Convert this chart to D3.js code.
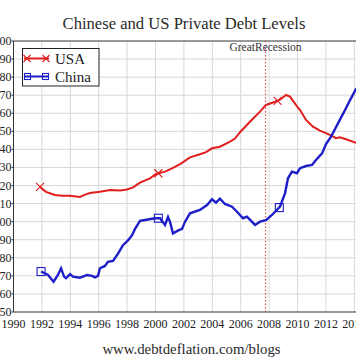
<!DOCTYPE html>
<html><head><meta charset="utf-8">
<script src="https://cdn.jsdelivr.net/npm/d3@7/dist/d3.min.js"></script>
<style>body{margin:0;background:#fff}svg{display:block}text{font-family:"Liberation Serif","Times New Roman",serif}</style>
</head><body><svg id="c" width="356" height="364"></svg>
<script>
const usaYears = [1991.87,1992.29,1992.92,1993.42,1993.98,1994.68,1995.04,1995.39,1996.09,1996.8,1997.5,1997.99,1998.42,1998.91,1999.61,2000.04,2000.67,2001.16,2001.73,2002.43,2003.13,2003.56,2003.98,2004.54,2005.25,2005.6,2005.95,2006.65,2007.36,2007.78,2008.42,2008.77,2009.19,2009.47,2009.89,2010.18,2010.6,2011.09,2011.58,2012.29,2012.71,2012.99,2013.42,2014.12,2014.5];
const usaValues = [119.2,116.5,114.8,114.3,114.4,113.7,115,115.9,116.6,117.5,117.2,117.8,119,121.6,124,126.4,127.7,129.5,131.9,135.6,137.3,138.5,140.6,141.5,144.3,146,149.5,155.3,160.9,164.6,166.4,167.5,170.1,169.2,164.6,161.8,156.3,152.6,150.4,148,146.2,146.7,145.6,143.7,143];
const chinaYears = [1991.94,1992.43,1992.82,1993.13,1993.35,1993.56,1993.7,1993.98,1994.19,1994.68,1995.18,1995.53,1995.74,1995.95,1996.09,1996.44,1996.65,1997.01,1997.36,1997.71,1998.06,1998.35,1998.56,1998.91,1999.26,1999.96,2000.32,2000.67,2000.88,2001.02,2001.23,2001.58,2001.87,2002.08,2002.43,2003.13,2003.63,2003.98,2004.26,2004.54,2004.89,2005.39,2005.74,2006.16,2006.44,2007.01,2007.36,2007.78,2008.2,2008.77,2009.12,2009.33,2009.61,2009.96,2010.18,2010.6,2011.02,2011.3,2011.73,2012.01,2012.36,2012.99,2013.35,2013.7,2014.12,2014.5];
const chinaValues = [72.4,70.5,66.8,70.5,74.2,69.6,68.7,71,69.6,69,70.5,70,69.2,70,74.2,75.5,77.8,78.3,82.3,87,89.6,92.5,96,100.4,100.9,101.9,101.9,98.2,102.6,100,93.5,95,96,100,104.6,106.5,109.2,112.4,110.5,112.7,109.8,108.3,105.5,101.9,102.8,98.2,100,100.9,103.7,108.3,115.7,124,127.7,126.8,129.6,130.8,131.4,134.1,137.8,143,147,156.5,161.8,167.3,173.4,176];
const usaMarkers = [[1991.87,119.2],[2000.2,126.8],[2008.6,166.8]];
const chinaMarkers = [[1991.94,72.4],[2000.2,101.9],[2008.72,107.8]];
const xTicks = d3.range(1990, 2017, 2);
const yTicks = d3.range(50, 201, 10);
const recessionYear = 2007.75;
const seriesNames = ["USA","China"];

const svg = d3.select("#c");
const x = d3.scaleLinear().domain([1990, 2016]).range([13.5, 382.7]);
const y = d3.scaleLinear().domain([50, 200]).range([312, 41]);

// grid
svg.append("g").selectAll("line").data(xTicks.slice(1)).join("line")
  .attr("x1", d => x(d)).attr("x2", d => x(d)).attr("y1", y(200)).attr("y2", y(50))
  .attr("stroke", "#d8d8d8").attr("stroke-width", 1);
svg.append("g").selectAll("line").data(yTicks.slice(1, -1)).join("line")
  .attr("x1", x(1990)).attr("x2", 400).attr("y1", d => y(d)).attr("y2", d => y(d))
  .attr("stroke", "#d8d8d8").attr("stroke-width", 1);

// frame
svg.append("line").attr("x1", x(1990)).attr("x2", 400).attr("y1", y(200)).attr("y2", y(200)).attr("stroke", "#333");
svg.append("line").attr("x1", x(1990)).attr("x2", 400).attr("y1", y(50)).attr("y2", y(50)).attr("stroke", "#333");
svg.append("line").attr("x1", x(1990)).attr("x2", x(1990)).attr("y1", y(200)).attr("y2", y(50)).attr("stroke", "#333");

// y tick labels
svg.append("g").selectAll("text").data(yTicks).join("text")
  .attr("x", 11.5).attr("y", d => y(d) + 4).attr("text-anchor", "end")
  .attr("font-size", 12).attr("fill", "#222").text(d => d);
svg.append("g").selectAll("line").data(yTicks).join("line")
  .attr("x1", x(1990) - 2).attr("x2", x(1990)).attr("y1", d => y(d)).attr("y2", d => y(d)).attr("stroke", "#333");
// x tick labels
svg.append("g").selectAll("text").data(xTicks).join("text")
  .attr("x", d => x(d)).attr("y", 327.5).attr("text-anchor", "middle")
  .attr("font-size", 12).attr("fill", "#222").text(d => d);

// recession line
svg.append("line").attr("x1", x(recessionYear)).attr("x2", x(recessionYear))
  .attr("y1", y(200)).attr("y2", y(50)).attr("stroke", "#e05050").attr("stroke-width", 1.2)
  .attr("stroke-dasharray", "1.5,2");
svg.append("text").attr("x", x(recessionYear)).attr("y", 51).attr("text-anchor", "middle")
  .attr("font-size", 11.5).attr("fill", "#333").text("GreatRecession");

const line = d3.line().x(d => x(d[0])).y(d => y(d[1]));
const usa = usaYears.map((d, i) => [d, usaValues[i]]);
const china = chinaYears.map((d, i) => [d, chinaValues[i]]);
const red = "#e01e1e", blue = "#1e1ec8";
svg.append("path").datum(usa).attr("d", line).attr("fill", "none").attr("stroke", red).attr("stroke-width", 2);
svg.append("path").datum(china).attr("d", line).attr("fill", "none").attr("stroke", blue).attr("stroke-width", 2.4);

function xMark(g, cx, cy, s, c) {
  g.append("path").attr("d", `M${cx - s},${cy - s}L${cx + s},${cy + s}M${cx - s},${cy + s}L${cx + s},${cy - s}`)
    .attr("stroke", c).attr("stroke-width", 1.1).attr("fill", "none");
}
function sqMark(g, cx, cy, s, c) {
  g.append("rect").attr("x", cx - s).attr("y", cy - s).attr("width", 2 * s).attr("height", 2 * s)
    .attr("stroke", c).attr("stroke-width", 1.1).attr("fill", "none");
}
const mk = svg.append("g");
usaMarkers.forEach(d => xMark(mk, x(d[0]), y(d[1]), 4, red));
chinaMarkers.forEach(d => sqMark(mk, x(d[0]), y(d[1]), 4, blue));

// legend
const lg = svg.append("g");
lg.append("rect").attr("x", 22.5).attr("y", 48.5).attr("width", 76.5).attr("height", 37.5)
  .attr("fill", "#fff").attr("stroke", "#222").attr("stroke-width", 1);
const legendY = [58.5, 76.5];
lg.append("line").attr("x1", 24).attr("x2", 49).attr("y1", legendY[0]).attr("y2", legendY[0]).attr("stroke", red).attr("stroke-width", 2);
xMark(lg, 27, legendY[0], 3.5, red); xMark(lg, 46, legendY[0], 3.5, red);
lg.append("line").attr("x1", 24).attr("x2", 49).attr("y1", legendY[1]).attr("y2", legendY[1]).attr("stroke", blue).attr("stroke-width", 2);
sqMark(lg, 27.5, legendY[1], 3, blue); sqMark(lg, 45.5, legendY[1], 3, blue);
seriesNames.forEach((n, i) => lg.append("text").attr("x", 55).attr("y", legendY[i] + 5)
  .attr("font-size", 15).attr("fill", "#222").text(n));

// title + footer
svg.append("text").attr("x", 184).attr("y", 28.5).attr("text-anchor", "middle")
  .attr("font-size", 16.6).attr("fill", "#2a2a2a").text("Chinese and US Private Debt Levels");
svg.append("text").attr("x", 191.5).attr("y", 354).attr("text-anchor", "middle")
  .attr("font-size", 14.8).attr("fill", "#2a2a2a").text("www.debtdeflation.com/blogs");
</script></body></html>
